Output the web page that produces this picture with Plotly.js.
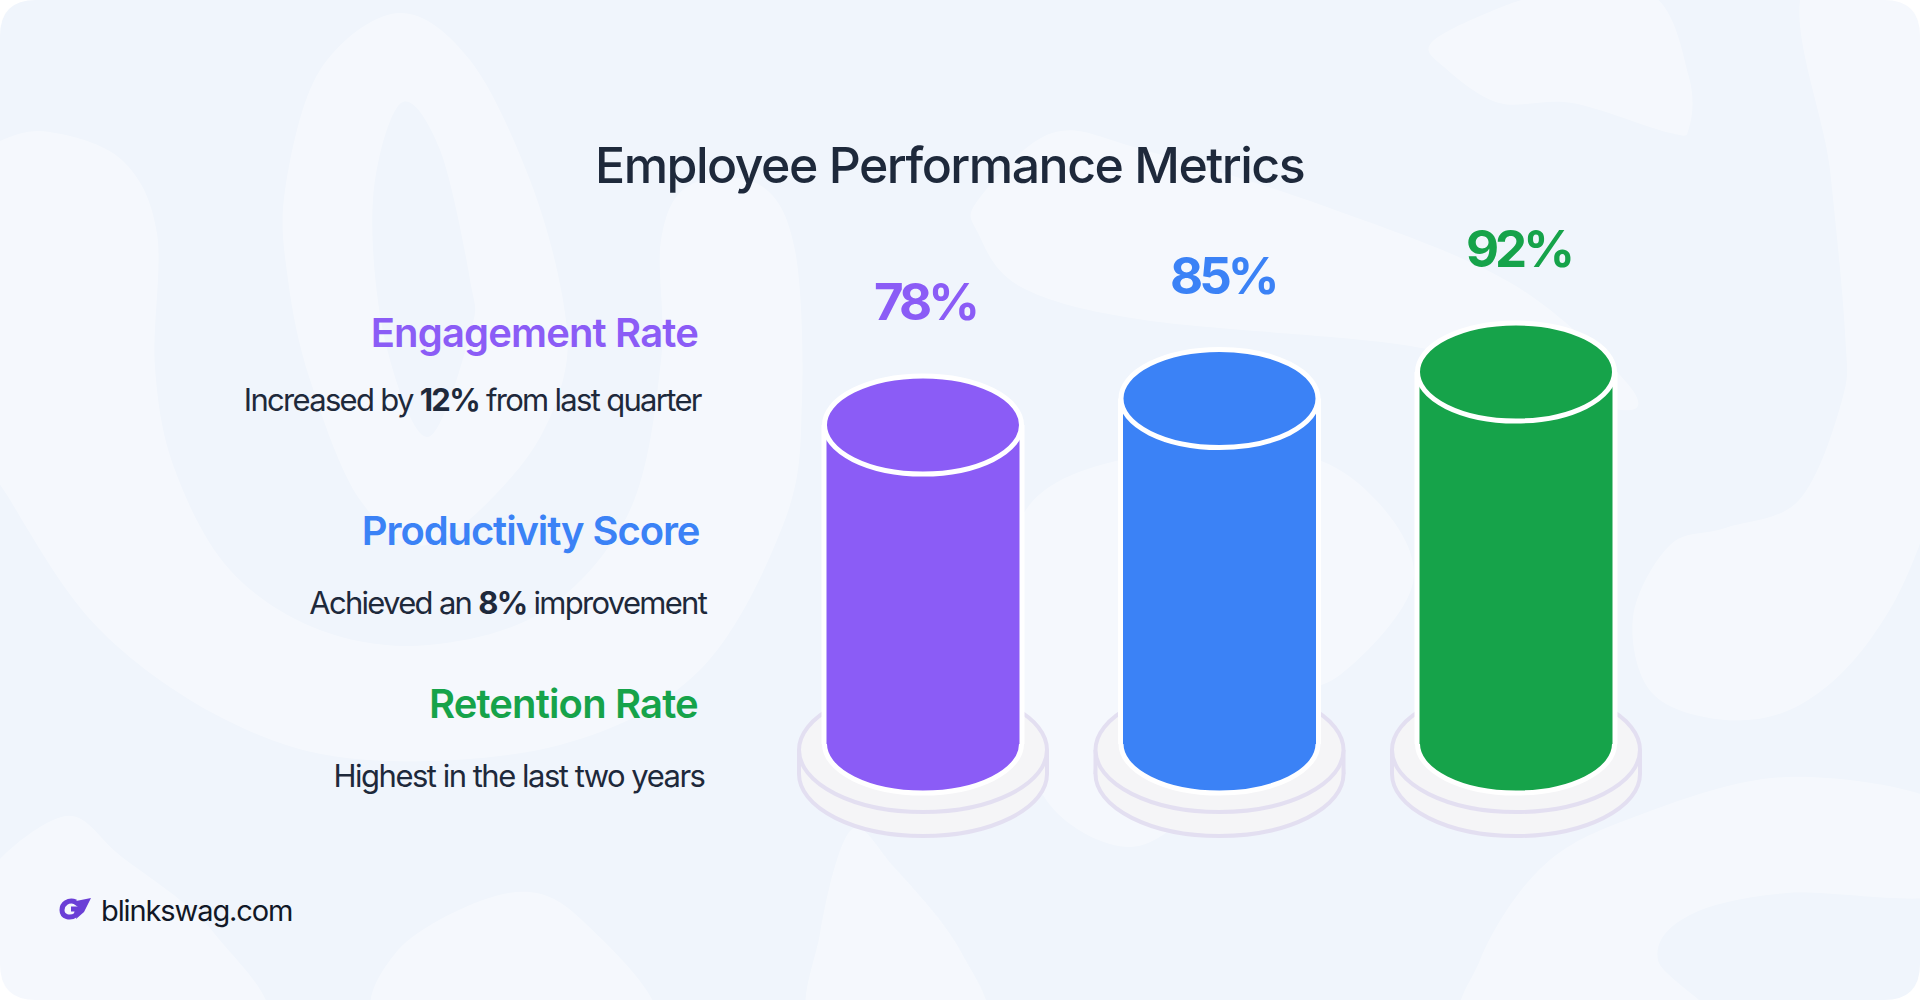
<!DOCTYPE html>
<html><head><meta charset="utf-8">
<script src="https://cdn.plot.ly/plotly-3.0.1.min.js"></script>
<style>html,body{margin:0;padding:0;background:#fff;overflow:hidden}#chart{width:1920px;height:1000px}</style></head>
<body><div id="chart"></div>
<script>
// ---- chart data ----
const categories = ['Engagement Rate', 'Productivity Score', 'Retention Rate'];
const values = [78, 85, 92];
const colors = ['#8b5cf6', '#3b82f6', '#16a34a'];
const notes = ['Increased by <b>12%</b> from last quarter', 'Achieved an <b>8%</b> improvement', 'Highest in the last two years'];
const titleText = 'Employee Performance Metrics';
const brandText = 'blinkswag.com';

// ---- layout helpers (pixel geometry of the page) ----
const W = 1920, H = 1000;
const catSpacing = 296.5, firstCat = 923;
const pxPerUnit = 3.786, floorY = 744, floorValue = -6.26;
const xRange = [-firstCat / catSpacing, (W - firstCat) / catSpacing];
const yRange = [floorValue - (H - floorY) / pxPerUnit, floorValue + floorY / pxPerUnit];
const barW = 193 / catSpacing, whiteW = 203 / catSpacing;
const ellipseRx = 98.5 / catSpacing, ellipseRy = 49 / pxPerUnit;
const discRx = 124 / catSpacing;
const px = (x, y) => (x / W) + ',' + (1 - y / H);
const py = y => 1 - y / H;

// smooth closed blob through points
function blob(pts) {
  const n = pts.length; let d = 'M' + px(pts[0][0], pts[0][1]);
  for (let i = 0; i < n; i++) {
    const p0 = pts[(i - 1 + n) % n], p1 = pts[i], p2 = pts[(i + 1) % n], p3 = pts[(i + 2) % n];
    const c1 = [p1[0] + (p2[0] - p0[0]) / 6, p1[1] + (p2[1] - p0[1]) / 6];
    const c2 = [p2[0] - (p3[0] - p1[0]) / 6, p2[1] - (p3[1] - p1[1]) / 6];
    d += 'C' + px(c1[0], c1[1]) + ' ' + px(c2[0], c2[1]) + ' ' + px(p2[0], p2[1]);
  }
  return d + 'Z';
}
const blobsBg = [
  // big U with the left lobe
  [[-40,170],[0,141],[50,132],[122,160],[157,233],[155,367],[175,470],[230,570],[320,630],[428,645],[545,610],[630,510],[661,360],[661,240],[690,185],[760,185],[795,250],[802,400],[785,520],[700,670],[560,745],[367,760],[230,722],[100,630],[10,500],[-40,400]],
  // upper right blob
  [[1431,43],[1487,13],[1548,-5],[1652,-5],[1689,77],[1689,128],[1670,133],[1572,103],[1499,103],[1444,67]],
  // right strip
  [[1808,-20],[1830,170],[1845,333],[1842,400],[1799,500],[1725,528],[1670,545],[1633,617],[1652,693],[1725,720],[1800,705],[1870,640],[1925,530],[1990,300],[1990,-20]],
  // diagonal blob
  [[978,200],[1052,133],[1144,150],[1327,207],[1511,283],[1627,383],[1621,410],[1511,370],[1389,343],[1144,320],[1021,287],[978,233]],
  // centre round blob
  [[1020,520],[1131,457],[1290,452],[1376,500],[1413,583],[1340,675],[1250,710],[1200,800],[1131,847],[1050,805],[1015,700]],
  // bottom shapes
  [[-30,900],[61,817],[122,857],[214,933],[255,1030],[-30,1030]],
  [[392,1030],[398,950],[508,893],[582,920],[650,1030]],
  [[818,1030],[820,933],[851,830],[894,867],[960,950],[980,1030]],
  [[1478,1030],[1480,960],[1542,867],[1634,817],[1787,777],[1950,807],[1950,893],[1787,893],[1690,915],[1658,960],[1710,1030]]
];
const ringOuter = [[285,190],[320,70],[398,13],[470,60],[530,180],[563,300],[563,380],[520,467],[428,545],[360,500],[310,380],[288,280]];
const ringHole = [[401,103],[373,200],[385,340],[428,437],[471,330],[470,280],[440,150]];

const blobFill = 'rgba(255,255,255,0.35)';
const shapes = [];
const below = s => shapes.push(Object.assign({ layer: 'below' }, s));
// page background with rounded corners
below({ type: 'rect', xref: 'paper', yref: 'paper', x0: 0, x1: 1, y0: 0, y1: 1, fillcolor: '#f0f5fc', line: { width: 0 } });
blobsBg.forEach(b => below({ type: 'path', xref: 'paper', yref: 'paper', path: blob(b), fillcolor: blobFill, line: { width: 0 } }));
below({ type: 'path', xref: 'paper', yref: 'paper', path: blob(ringOuter) + blob(ringHole), fillrule: 'evenodd', fillcolor: blobFill, line: { width: 0 } });
// white corner masks
const R = 36;
[[0, 0, 1, 1], [W, 0, -1, 1], [0, H, 1, -1], [W, H, -1, -1]].forEach(([cx, cy, sx, sy]) => below({
  type: 'path', xref: 'paper', yref: 'paper', fillcolor: '#ffffff', line: { width: 0 },
  path: 'M' + px(cx, cy) + 'L' + px(cx + sx * R, cy) + 'Q' + px(cx, cy) + ' ' + px(cx, cy + sy * R) + 'Z'
}));
// discs and cylinder ends
const discLine = { color: '#e3dff1', width: 4 };
const discTop = 750, discLow = 774, discRy = 62;
categories.forEach((c, i) => {
  const disc = cy => below({ type: 'circle', xref: 'x', yref: 'paper', x0: i - discRx, x1: i + discRx, y0: py(cy + discRy), y1: py(cy - discRy), fillcolor: '#f5f5f7', line: discLine });
  disc(discLow);
  below({ type: 'rect', xref: 'x', yref: 'paper', x0: i - discRx, x1: i + discRx, y0: py(discLow), y1: py(discTop), fillcolor: '#f5f5f7', line: { width: 0 } });
  below({ type: 'line', xref: 'x', yref: 'paper', x0: i - discRx, x1: i - discRx, y0: py(discLow), y1: py(discTop), line: discLine });
  below({ type: 'line', xref: 'x', yref: 'paper', x0: i + discRx, x1: i + discRx, y0: py(discLow), y1: py(discTop), line: discLine });
  disc(discTop);
  below({ type: 'circle', xref: 'x', yref: 'y', x0: i - ellipseRx, x1: i + ellipseRx, y0: floorValue - ellipseRy, y1: floorValue + ellipseRy, fillcolor: colors[i], line: { color: '#ffffff', width: 5 } });
  shapes.push({ layer: 'above', type: 'circle', xref: 'x', yref: 'y', x0: i - ellipseRx, x1: i + ellipseRx, y0: values[i] - ellipseRy, y1: values[i] + ellipseRy, fillcolor: colors[i], line: { color: '#ffffff', width: 5 } });
});
// logo
shapes.push({ type: 'path', xref: 'paper', yref: 'paper', layer: 'above', fillcolor: 'rgba(0,0,0,0)', line: { color: '#6a3fd6', width: 5 },
  path: 'M' + px(76, 902) + 'C' + px(68, 899) + ' ' + px(62, 904) + ' ' + px(62, 910) + 'C' + px(62, 917) + ' ' + px(70, 919) + ' ' + px(76, 915) + 'L' + px(78, 909) + 'L' + px(71, 909) });
shapes.push({ type: 'path', xref: 'paper', yref: 'paper', layer: 'above', fillcolor: '#6a3fd6', line: { width: 0 },
  path: 'M' + px(91, 898) + 'L' + px(71, 902) + 'L' + px(78, 907) + 'L' + px(76, 919) + 'L' + px(84, 912) + 'Z' });

// ---- annotations ----
const ann = [];
const tracking = [];
const textAt = (text, x, y, size, color, weight, anchor, ls) => { tracking.push(ls); ann.push({ xref: 'paper', yref: 'paper', x: x / W, y: py(y), text, showarrow: false, xanchor: anchor, yanchor: 'middle', align: anchor, font: { family: 'Inter', size, color, weight } }); };
const headY = [333, 530, 703], noteY = [399, 602, 775];
const headR = [700, 701, 700], noteR = [703, 708, 706];
const headTrack = [-0.85, -1.1, -0.85], noteTrack = [-1.7, -1.7, -1.5];
const labelDx = [2, 3, 2];
categories.forEach((c, i) => {
  textAt(c, headR[i], headY[i], 40, colors[i], 600, 'right', headTrack[i]);
  textAt(notes[i], noteR[i], noteY[i], 31, '#1e293b', 400, 'right', noteTrack[i]);
  tracking.push(-4);
  ann.push({ xref: 'x', yref: 'y', x: i, y: values[i], yshift: 123, xshift: labelDx[i], text: values[i] + '%', showarrow: false, xanchor: 'center', yanchor: 'middle', font: { family: 'Inter', size: 51, color: colors[i], weight: 700 } });
});
textAt(titleText, 949, 165, 50, '#1e293b', 500, 'center', -1.5);
textAt(brandText, 99, 910, 29, '#111827', 400, 'left', -1.1);

// per-annotation letter spacing, in place before Plotly measures the text
const css = document.createElement('style');
css.textContent = tracking.map((v, i) => '.annotation[data-index="' + i + '"] text{letter-spacing:' + v + 'px}').join('\n');
document.head.appendChild(css);

const traces = [
  { type: 'bar', x: categories, y: values.map(v => v - floorValue), base: floorValue, width: whiteW, marker: { color: '#ffffff', line: { width: 0 } }, hoverinfo: 'skip', showlegend: false },
  { type: 'bar', x: categories, y: values.map(v => v - floorValue), base: floorValue, width: barW, marker: { color: colors, line: { width: 0 } }, showlegend: false, hovertemplate: '%{x}: %{customdata}%<extra></extra>', customdata: values }
];
const layout = {
  width: W, height: H, margin: { l: 0, r: 0, t: 0, b: 0, pad: 0 }, barmode: 'overlay', showlegend: false,
  paper_bgcolor: '#ffffff', plot_bgcolor: 'rgba(0,0,0,0)',
  xaxis: { type: 'category', categoryorder: 'array', categoryarray: categories, range: xRange, visible: false, fixedrange: true },
  yaxis: { type: 'linear', range: yRange, visible: false, fixedrange: true },
  shapes, annotations: ann
};
Plotly.newPlot('chart', traces, layout, { displayModeBar: false, staticPlot: true });
</script></body></html>
